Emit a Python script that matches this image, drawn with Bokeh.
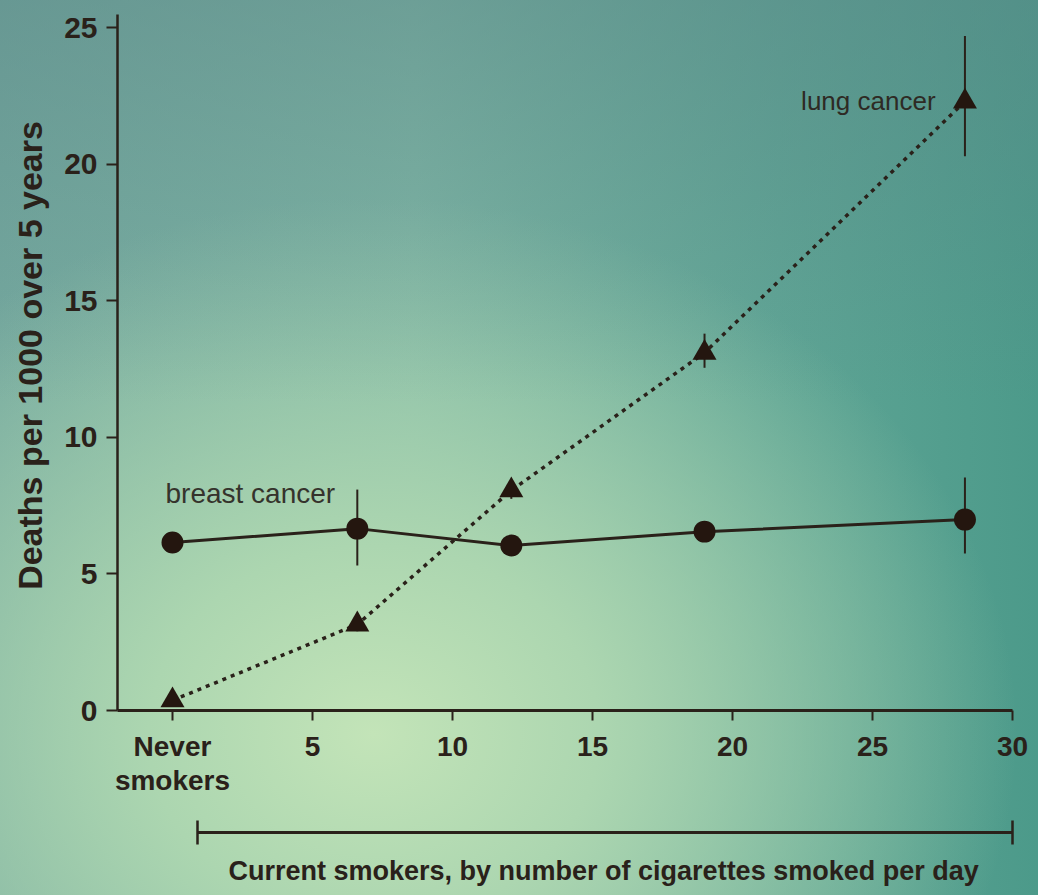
from bokeh.plotting import figure
from bokeh.models import LinearAxis, FixedTicker, Range1d, ColumnDataSource, Title
from bokeh.core.properties import value
from bokeh.embed import file_html
from bokeh.resources import INLINE

# ---- data ----
cigs = [0, 6.6, 12.1, 19.0, 28.3]
breast = [6.15, 6.66, 6.04, 6.55, 6.99]
breast_lo = [5.9, 5.31, 5.8, 6.25, 5.75]
breast_hi = [6.4, 8.09, 6.3, 6.85, 8.53]
lung = [0.37, 3.15, 8.06, 13.1, 22.3]
lung_lo = [0.2, 2.9, 7.75, 12.55, 20.3]
lung_hi = [0.55, 3.45, 8.35, 13.8, 24.7]
x_ticks = [0, 5, 10, 15, 20, 25, 30]
x_tick_labels = ["Never\nsmokers\n", "5", "10", "15", "20", "25", "30"]
y_ticks = [0, 5, 10, 15, 20, 25]
bracket_ends = [0.9, 30]

INK = "#2a211a"
SANS = "Liberation Sans"

src_b = ColumnDataSource(dict(x=cigs, y=breast, lo=breast_lo, hi=breast_hi))
src_l = ColumnDataSource(dict(x=cigs, y=lung, lo=lung_lo, hi=lung_hi))

x0, x1 = -1.964, 30.07
p = figure(width=1038, height=895, x_range=Range1d(x0, x1), y_range=Range1d(0, 26.0),
           x_axis_type=None, y_axis_type=None, output_backend="svg", toolbar_location=None,
           min_border_top=0, min_border_left=117, min_border_right=24, min_border_bottom=185)
p.grid.visible = False
p.outline_line_color = None
p.background_fill_color = None
p.border_fill_color = None
p.styles = {
    "background-image": (
        "linear-gradient(180deg, rgba(90,135,135,0.5) 0%, rgba(90,135,135,0) 45%),"
        "radial-gradient(ellipse 62% 60% at 36% 82%, #c3e4b8 0%, #acd6b0 35%, rgba(140,195,170,0) 100%),"
        "linear-gradient(90deg, #75a99f 0%, #80b7a6 40%, #5fa595 75%, #4c9a8a 100%)"
    ),
}

# y axis
yax = LinearAxis(ticker=FixedTicker(ticks=y_ticks), bounds=(0, 25.5),
                 axis_label="Deaths per 1000 over 5 years")
yax.axis_line_width = 2.5
yax.axis_line_color = INK
yax.major_tick_line_color = INK
yax.major_tick_line_width = 2
yax.major_tick_out = 11
yax.major_tick_in = 0
yax.minor_tick_line_color = None
yax.major_label_text_font = SANS
yax.major_label_text_font_style = "bold"
yax.major_label_text_font_size = "30px"
yax.major_label_text_color = INK
yax.major_label_standoff = 9
yax.axis_label_text_font = SANS
yax.axis_label_text_font_style = "bold"
yax.axis_label_text_font_size = "34px"
yax.axis_label_text_color = INK
yax.axis_label_standoff = 12
p.add_layout(yax, "left")

# x axis
xax = LinearAxis(ticker=FixedTicker(ticks=x_ticks), bounds=(x0, 30),
                 major_label_overrides={t: lab for t, lab in zip(x_ticks, x_tick_labels)})
xax.axis_line_width = 3
xax.axis_line_color = INK
xax.major_tick_line_color = INK
xax.major_tick_line_width = 2
xax.major_tick_out = 10
xax.major_tick_in = 0
xax.minor_tick_line_color = None
xax.major_label_text_font = SANS
xax.major_label_text_font_style = "bold"
xax.major_label_text_font_size = "28px"
xax.major_label_text_color = INK
xax.major_label_text_line_height = 1.1
xax.major_label_standoff = 10
p.add_layout(xax, "below")

# bracket for current smokers
bax = LinearAxis(ticker=FixedTicker(ticks=bracket_ends), bounds=(bracket_ends[0], bracket_ends[1]),
                 major_label_overrides={t: "" for t in bracket_ends})
bax.axis_line_width = 3
bax.axis_line_color = INK
bax.major_tick_line_color = INK
bax.major_tick_line_width = 2.5
bax.major_tick_out = 12
bax.major_tick_in = 12
bax.minor_tick_line_color = None
bax.major_label_standoff = 0
bax.major_label_text_font_size = "1px"
p.add_layout(bax, "below")

t = Title(text="Current smokers, by number of cigarettes smoked per day", align="left",
          offset=111, text_font=SANS, text_font_style="bold", text_font_size="27px",
          text_color=INK, standoff=18)
p.add_layout(t, "below")

# breast cancer
p.segment(x0="x", y0="lo", x1="x", y1="hi", source=src_b, line_color=INK, line_width=2)
p.line(x="x", y="y", source=src_b, line_color=INK, line_width=3)
p.scatter(x="x", y="y", source=src_b, marker="circle", size=22, fill_color="#24160f", line_color=None)

# lung cancer
p.segment(x0="x", y0="lo", x1="x", y1="hi", source=src_l, line_color=INK, line_width=2)
p.line(x="x", y="y", source=src_l, line_color=INK, line_width=3.5, line_dash="4 5")
p.scatter(x="x", y="y", source=src_l, marker="triangle", size=24, fill_color="#24160f", line_color=None)

p.text(x=[27.25], y=[22.33], text=["lung cancer"], text_align="right", text_baseline="middle",
       text_font=value(SANS), text_font_size="26px", text_color="#2e2a24")
p.text(x=[-0.25], y=[7.94], text=["breast cancer"], text_align="left", text_baseline="middle",
       text_font=value(SANS), text_font_size="28px", text_color="#35332c")

open("out.html", "w").write(file_html(p, INLINE))
